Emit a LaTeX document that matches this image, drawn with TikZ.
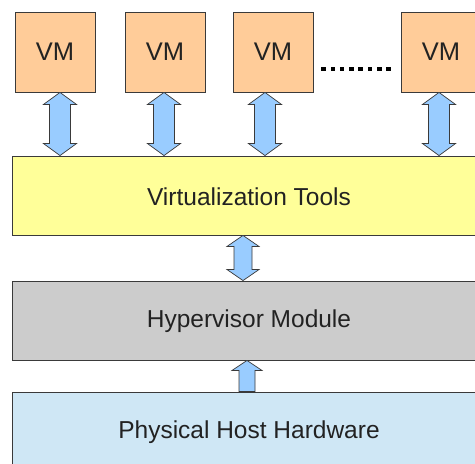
\documentclass[tikz,border=0pt]{standalone}
\usepackage{fontspec}
\setmainfont{Liberation Sans}
\usetikzlibrary{calc}
\definecolor{vmfill}{HTML}{FFCC99}
\definecolor{vtfill}{HTML}{FFFF99}
\definecolor{hmfill}{HTML}{CCCCCC}
\definecolor{phfill}{HTML}{CFE7F5}
\definecolor{arrfill}{HTML}{99CCFF}
\definecolor{edge}{HTML}{3A3A3A}
\definecolor{txt}{HTML}{222222}
\tikzset{
  vmbox/.style={draw=edge, line width=0.9pt, fill=vmfill, minimum width=80pt, minimum height=80pt, inner sep=0pt, text=txt, font=\fontsize{25.5}{30}\selectfont},
  layer/.style={draw=edge, line width=0.9pt, minimum width=470pt, minimum height=79pt, inner sep=0pt, anchor=west},
  layertext/.style={text=txt, font=\fontsize{24.5}{29}\selectfont},
  arr/.style={draw=edge, line width=0.7pt, fill=arrfill, line join=miter},
}
\newcommand\dblarr[5]{%
  \draw[arr] let \p1=(#1), \p2=(#2) in
    (\x1,\y1) -- (\x1+#3,\y1-#5) -- (\x1+#4,\y1-#5) -- (\x1+#4,\y2+#5) -- (\x1+#3,\y2+#5)
    -- (\x1,\y2) -- (\x1-#3,\y2+#5) -- (\x1-#4,\y2+#5) -- (\x1-#4,\y1-#5) -- (\x1-#3,\y1-#5) -- cycle;}
\newcommand\uparr[5]{%
  \draw[arr] let \p1=(#1), \p2=(#2) in
    (\x1,\y1) -- (\x1+#3,\y1-#5) -- (\x1+#4,\y1-#5) -- (\x1+#4,\y2)
    -- (\x1-#4,\y2) -- (\x1-#4,\y1-#5) -- (\x1-#3,\y1-#5) -- cycle;}
\begin{document}
\begin{tikzpicture}[x=1pt,y=1pt]
\clip (0,0) rectangle (475,464);
\fill[white] (0,0) rectangle (475,464);
% VMs
\node[vmbox] (vm1) at (55,412) {VM};
\node[vmbox] (vm2) at (165,412) {VM};
\node[vmbox] (vm3) at (273,412) {VM};
\node[vmbox] (vm4) at (441,412) {VM};
% dots
\foreach \i in {0,...,7} \fill[black] (323.5+\i*9.3-2.25,392.5) rectangle ++(4.5,4.5);
% layers
\node[layer, fill=vtfill] (vt) at (12,268.5) {};
\node[layertext] (vtl) at (249,267.5) {Virtualization Tools};
\node[layer, fill=hmfill] (hm) at (12,143.5) {};
\node[layertext] (hml) at (249,142.5) {Hypervisor Module};
\node[layer, fill=phfill] (ph) at (12,32.5) {};
\node[layertext] (phl) at (249,31.5) {Physical Host Hardware};
% arrow endpoints
\coordinate (a1t) at (vm1.south -| 60,0);
\coordinate (a1b) at (vt.north -| 60,0);
\coordinate (a2t) at (vm2.south -| 164,0);
\coordinate (a2b) at (vt.north -| 164,0);
\coordinate (a3t) at (vm3.south -| 265,0);
\coordinate (a3b) at (vt.north -| 265,0);
\coordinate (a4t) at (vm4.south -| 439,0);
\coordinate (a4b) at (vt.north -| 439,0);
\coordinate (a5t) at (vt.south -| 243,0);
\coordinate (a5b) at (hm.north -| 243,0);
\coordinate (a6t) at (hm.south -| 247,0);
\coordinate (a6b) at (ph.north -| 247,0);
\dblarr{a1t}{a1b}{16.5pt}{10.5pt}{12pt}
\dblarr{a2t}{a2b}{16.5pt}{10.5pt}{12pt}
\dblarr{a3t}{a3b}{16.5pt}{10.5pt}{12pt}
\dblarr{a4t}{a4b}{16.5pt}{10.5pt}{12pt}
\dblarr{a5t}{a5b}{16pt}{9pt}{11pt}
\uparr{a6t}{a6b}{15pt}{8pt}{10pt}
\end{tikzpicture}
\end{document}
